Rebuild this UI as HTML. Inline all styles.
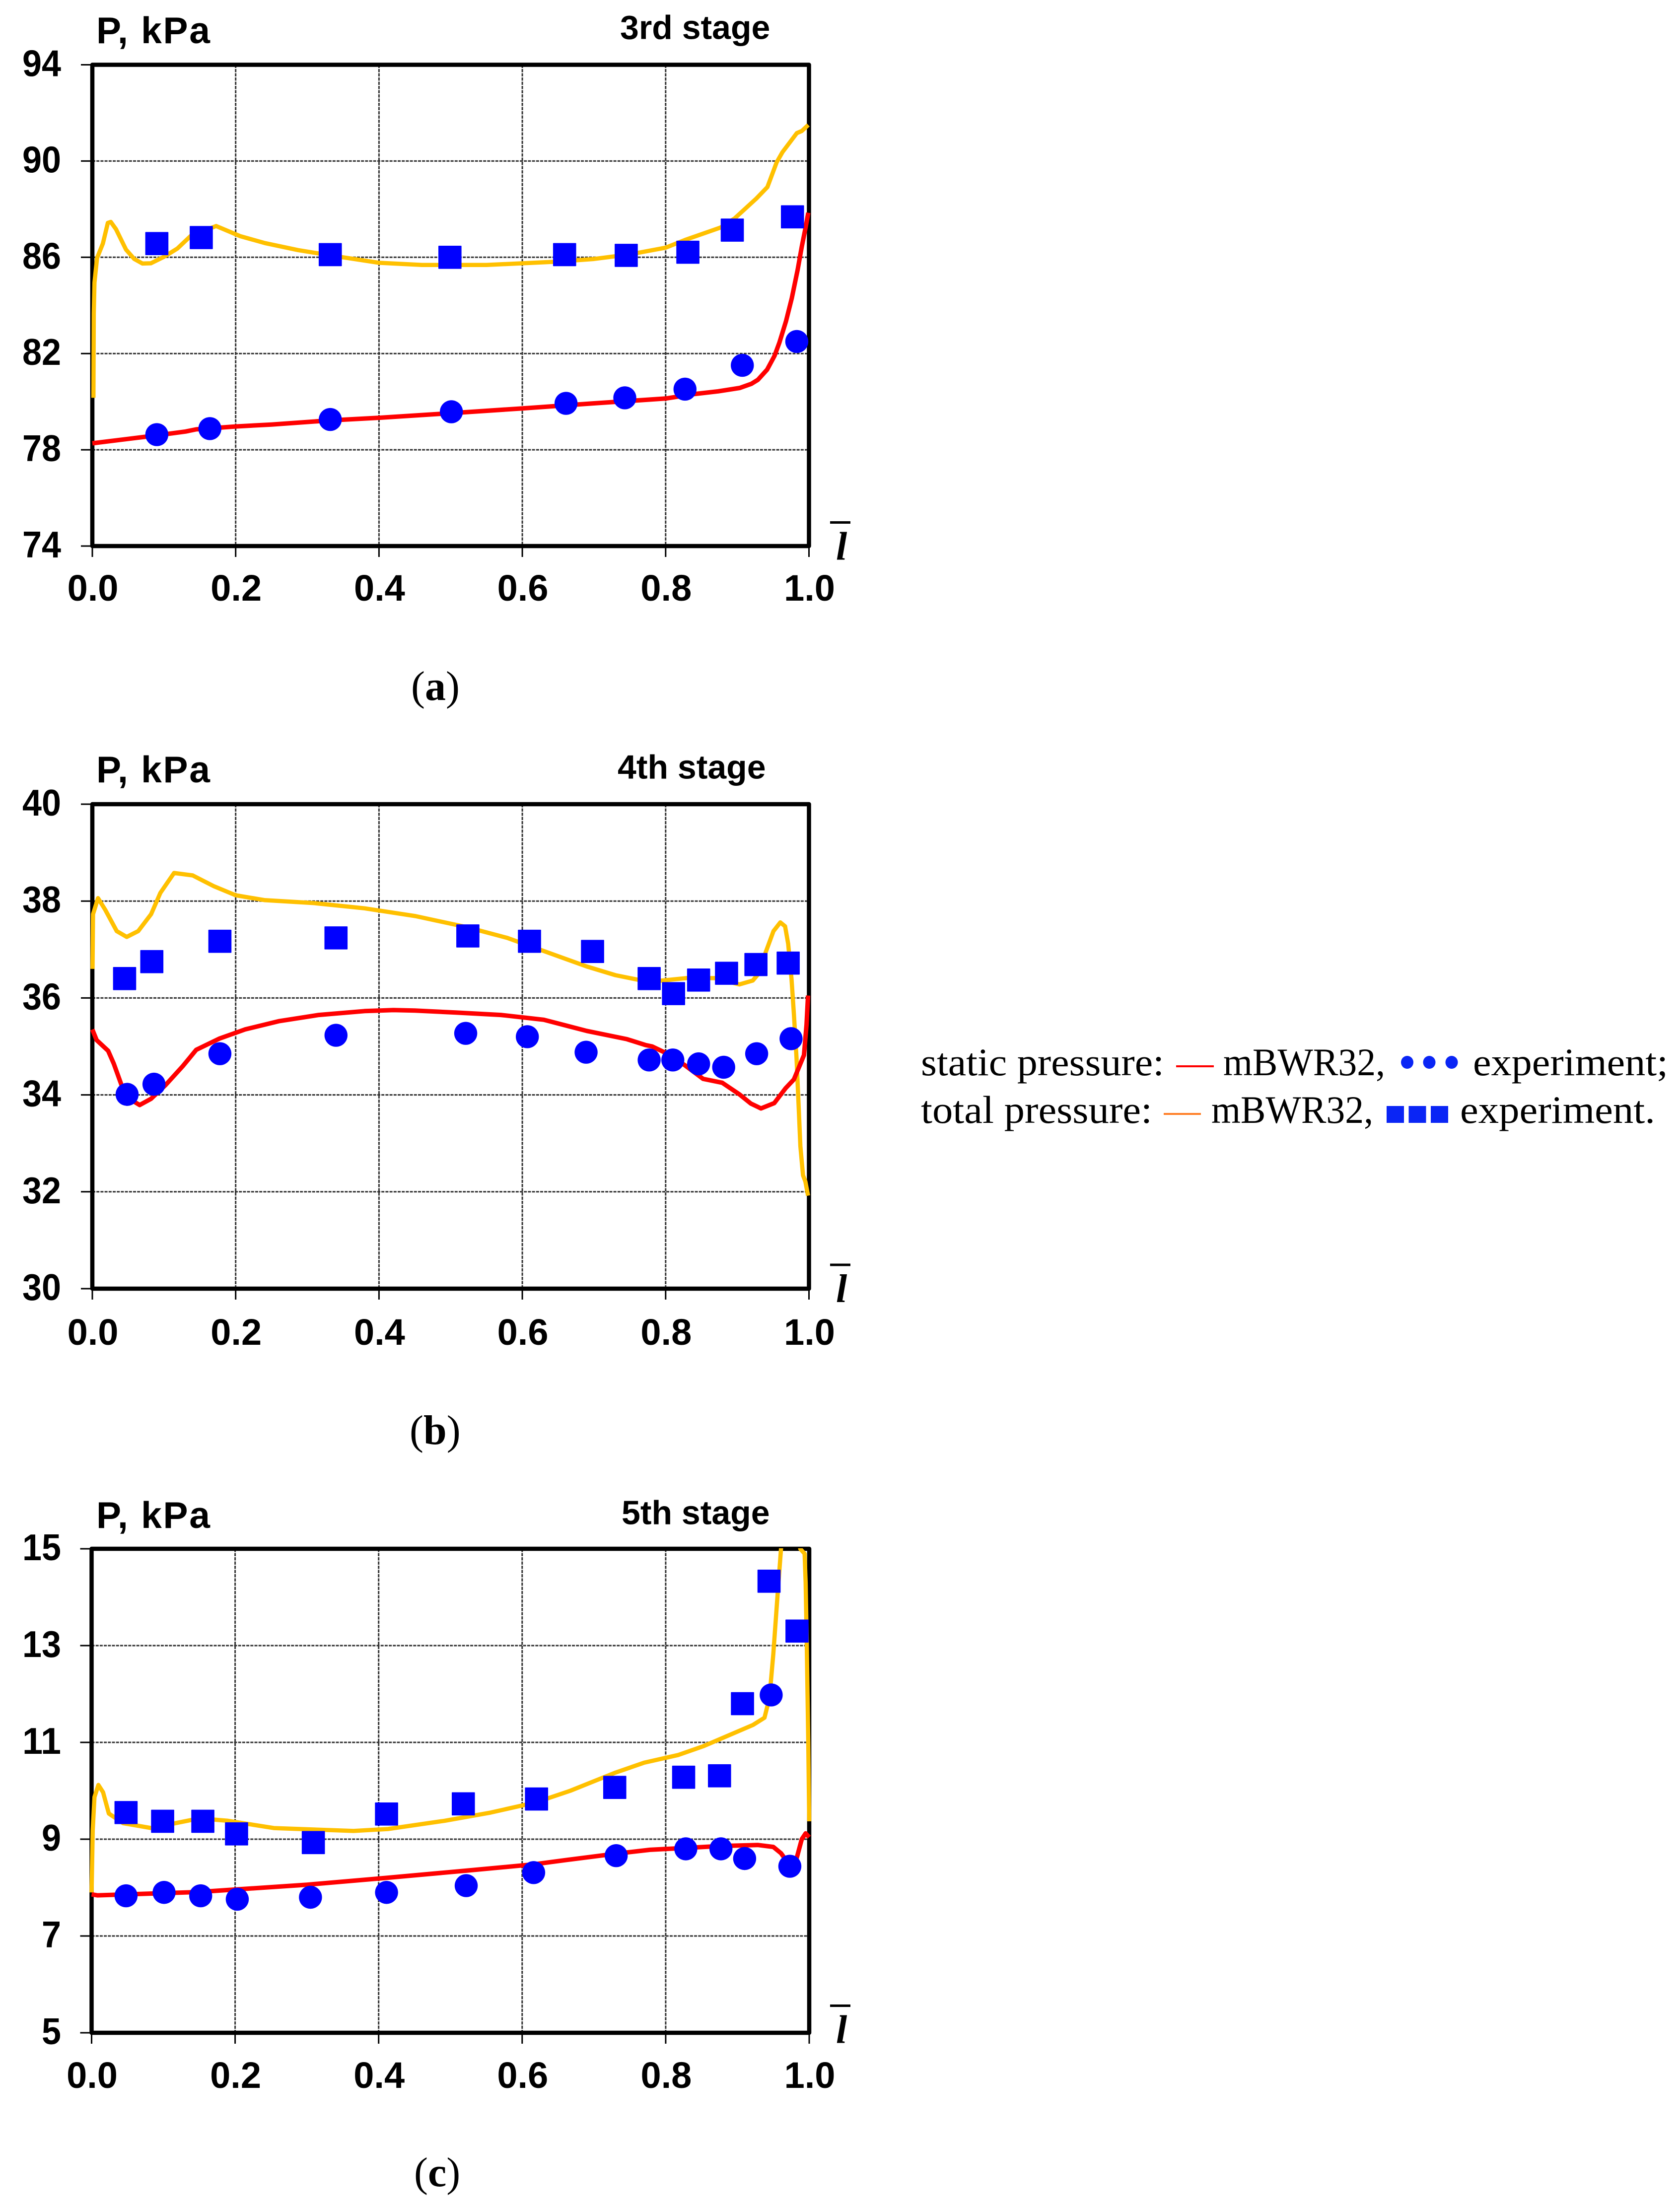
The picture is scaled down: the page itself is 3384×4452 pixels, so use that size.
<!DOCTYPE html>
<html lang="en">
<head>
<meta charset="utf-8">
<title>Pressure distribution by stage</title>
<style>
html,body{margin:0;padding:0;background:#fff}
svg{display:block}
.sans{font-family:"Liberation Sans",Arial,sans-serif;font-weight:bold;fill:#000}
.serif{font-family:"Liberation Serif","Times New Roman",serif;fill:#000}
</style>
</head>
<body>
<svg id="figure" xmlns="http://www.w3.org/2000/svg" width="3384" height="4452" viewBox="0 0 3384 4452">
  <rect x="0" y="0" width="3384" height="4452" fill="#fff"/>
  <g id="panels"></g>
  <g>
    <text class="serif" x="1855" y="2166" font-size="78" textLength="490" lengthAdjust="spacingAndGlyphs">static pressure:</text>
    <rect x="2369" y="2146" width="76" height="4" fill="#ff0000"/>
    <text class="serif" x="2464" y="2166" font-size="78" textLength="326" lengthAdjust="spacingAndGlyphs">mBWR32,</text>
    <ellipse cx="2834.5" cy="2140" rx="12.5" ry="13" fill="#0a25f5"/>
    <ellipse cx="2879" cy="2140" rx="12.5" ry="13" fill="#0a25f5"/>
    <ellipse cx="2924" cy="2140" rx="12.5" ry="13" fill="#0a25f5"/>
    <text class="serif" x="2967" y="2166" font-size="78" textLength="393" lengthAdjust="spacingAndGlyphs">experiment;</text>
    <text class="serif" x="1855" y="2262" font-size="78" textLength="466" lengthAdjust="spacingAndGlyphs">total pressure:</text>
    <rect x="2344" y="2242" width="75" height="4" fill="#ff7f27"/>
    <text class="serif" x="2440" y="2262" font-size="78" textLength="326" lengthAdjust="spacingAndGlyphs">mBWR32,</text>
    <rect x="2793" y="2228" width="35" height="34" fill="#0a25f5"/>
    <rect x="2837.5" y="2228" width="35" height="34" fill="#0a25f5"/>
    <rect x="2882" y="2228" width="35" height="34" fill="#0a25f5"/>
    <text class="serif" x="2941" y="2262" font-size="78" textLength="393" lengthAdjust="spacingAndGlyphs">experiment.</text>
  </g>
</svg>
<script>
// ---- shared tick labels ----
const xTickLabels = ['0.0', '0.2', '0.4', '0.6', '0.8', '1.0'];
const yTicksA = ['74', '78', '82', '86', '90', '94'];
const yTicksB = ['30', '32', '34', '36', '38', '40'];
const yTicksC = ['5', '7', '9', '11', '13', '15'];

// ---- panel (a) 3rd stage ----
const aStaticLineX = [0, .09, .13, .145, .2, .25, .33, .4, .5, .6, .7, .8, .841, .8733, .9034, .9195, .9288, .9415, .952, .9588, .968, .976, .9842, .99, .9955, .999];
const aStaticLineY = [78.27, 78.6, 78.76, 78.85, 78.97, 79.05, 79.22, 79.33, 79.52, 79.72, 79.93, 80.13, 80.32, 80.43, 80.57, 80.74, 80.91, 81.33, 81.91, 82.46, 83.35, 84.3, 85.48, 86.45, 87.27, 87.85];
const aTotalLineX = [.0015, .002, .003, .0066, .0147, .0216, .0257, .033, .047, .0585, .07, .0816, .1, .1185, .137, .1727, .206, .2408, .287, .332, .4, .46, .55, .65, .7, .75, .8, .827, .8768, .8964, .9265, .942, .955, .963, .983, .99, .999];
const aTotalLineY = [80.16, 83.67, 84.95, 85.97, 86.57, 87.43, 87.47, 87.17, 86.32, 85.93, 85.74, 85.75, 86.02, 86.36, 86.88, 87.3, 86.88, 86.59, 86.3, 86.08, 85.77, 85.68, 85.68, 85.82, 85.93, 86.12, 86.4, 86.72, 87.24, 87.62, 88.44, 88.92, 89.95, 90.37, 91.16, 91.25, 91.5];
const aStaticExpX = [.09, .164, .332, .501, .661, .743, .827, .907, .983];
const aStaticExpY = [78.63, 78.88, 79.26, 79.58, 79.93, 80.16, 80.52, 81.51, 82.5];
const aTotalExpX = [.09, .152, .332, .499, .659, .745, .831, .893, .977];
const aTotalExpY = [86.57, 86.82, 86.11, 86, 86.11, 86.08, 86.21, 87.13, 87.68];

// ---- panel (b) 4th stage ----
const bStaticLineX = [0, .006, .022, .03, .042, .054, .066, .082, .102, .126, .145, .177, .213, .26, .316, .38, .42, .45, .507, .57, .63, .69, .746, .7716, .781, .7995, .827, .8523, .879, .903, .919, .933, .9516, .9676, .979, .993, .9966, .9987];
const bStaticLineY = [35.35, 35.13, 34.91, 34.64, 34.15, 33.9, 33.79, 33.92, 34.2, 34.59, 34.93, 35.16, 35.35, 35.52, 35.65, 35.73, 35.75, 35.74, 35.7, 35.65, 35.55, 35.32, 35.15, 35.03, 35, 34.87, 34.61, 34.33, 34.25, 34.01, 33.82, 33.72, 33.83, 34.14, 34.32, 34.82, 35.45, 36.05];
const bTotalLineX = [.0003, .001, .008, .018, .034, .048, .064, .082, .095, .114, .14, .169, .2, .24, .308, .38, .451, .523, .579, .626, .69, .73, .777, .7945, .829, .8685, .903, .9216, .929, .94, .9505, .96, .9667, .971, .9757, .979, .9826, .985, .988, .9917, .995, .9987];
const bTotalLineY = [36.6, 37.73, 38.06, 37.82, 37.38, 37.26, 37.38, 37.73, 38.17, 38.58, 38.53, 38.31, 38.12, 38.02, 37.96, 37.85, 37.69, 37.46, 37.24, 36.99, 36.65, 36.47, 36.33, 36.36, 36.41, 36.41, 36.28, 36.36, 36.49, 36.96, 37.38, 37.56, 37.48, 37.12, 36.39, 35.66, 34.77, 33.98, 32.94, 32.34, 32.21, 31.92];
const bStaticExpX = [.0485, .086, .178, .34, .521, .607, .689, .777, .81, .846, .881, .927, .975];
const bStaticExpY = [34.01, 34.22, 34.85, 35.23, 35.27, 35.2, 34.88, 34.72, 34.72, 34.64, 34.57, 34.85, 35.16];
const bTotalExpX = [.045, .083, .178, .34, .524, .61, .698, .777, .811, .846, .885, .926, .971];
const bTotalExpY = [36.4, 36.75, 37.17, 37.24, 37.28, 37.17, 36.96, 36.4, 36.09, 36.37, 36.51, 36.69, 36.72];

// ---- panel (c) 5th stage ----
const cStaticLineX = [0, .008, .048, .15, .2, .3, .41, .522, .616, .667, .73, .778, .828, .877, .9285, .95, .9607, .9735, .9826, .9896, .995, 1];
const cStaticLineY = [7.86, 7.84, 7.86, 7.91, 7.96, 8.06, 8.2, 8.35, 8.48, 8.58, 8.7, 8.78, 8.82, 8.86, 8.88, 8.84, 8.71, 8.45, 8.61, 9, 9.12, 9.04];
const cTotalLineX = [0, .0016, .004, .0095, .016, .024, .044, .083, .15, .19, .254, .365, .413, .492, .556, .619, .667, .729, .77, .8177, .8523, .887, .9216, .9377, .9446, .95, .956, .9607, .9632, .985, .9875, .9936, .995, .9966, .9987, 1];
const cTotalLineY = [7.9, 9.19, 9.87, 10.12, 9.97, 9.53, 9.33, 9.23, 9.43, 9.38, 9.23, 9.17, 9.21, 9.38, 9.55, 9.76, 10, 10.37, 10.58, 10.74, 10.92, 11.14, 11.36, 11.51, 11.92, 12.83, 14.07, 15, 15.5, 15.5, 15, 14.9, 14.3, 13, 11, 9.37];
const cStaticExpX = [.048, .101, .152, .203, .305, .411, .522, .616, .731, .828, .877, .91, .947, .973];
const cStaticExpY = [7.83, 7.9, 7.83, 7.76, 7.8, 7.9, 8.04, 8.31, 8.66, 8.8, 8.8, 8.6, 11.98, 8.44];
const cTotalExpX = [.048, .099, .155, .202, .309, .411, .518, .62, .729, .825, .875, .907, .944, .983];
const cTotalExpY = [9.55, 9.37, 9.37, 9.11, 8.93, 9.52, 9.73, 9.83, 10.07, 10.28, 10.31, 11.8, 14.33, 13.3];

const NS = 'http://www.w3.org/2000/svg';
const panelsRoot = document.getElementById('panels');

function make(parent, tag, attrs, text) {
  const el = document.createElementNS(NS, tag);
  for (const k in attrs) el.setAttribute(k, attrs[k]);
  if (text !== undefined) el.textContent = text;
  parent.appendChild(el);
  return el;
}

function drawPanel(p) {
  const g = make(panelsRoot, 'g', {});
  
  
  const yMin = Number(p.yTicks[0]);
  const yMax = Number(p.yTicks[p.yTicks.length - 1]);
  const sx = v => p.left + v * (p.right - p.left);
  const sy = v => p.bottom - (v - yMin) / (yMax - yMin) * (p.bottom - p.top);

  // gridlines
  xTickLabels.slice(1, -1).forEach(lab => {
    const x = sx(Number(lab));
    const line = make(g, 'line', { x1: x, x2: x, y1: p.top, y2: p.bottom, stroke: '#333', 'stroke-width': 3, 'stroke-dasharray': '6.5 2' });
    
    
  });
  p.yTicks.slice(1, -1).forEach(lab => {
    const y = sy(Number(lab));
    const line = make(g, 'line', { x1: p.left, x2: p.right, y1: y, y2: y, stroke: '#333', 'stroke-width': 3, 'stroke-dasharray': '6 2.2' });
    
    
  });

  // tick marks and labels
  p.yTicks.forEach(lab => {
    const y = sy(Number(lab));
    const tick = make(g, 'line', { x1: p.left - 23, x2: p.left, y1: y, y2: y, stroke: '#000', 'stroke-width': 3 });
    
    
    const t = make(g, 'text', { class: 'sans', x: 123, y: y + 23, 'font-size': 75, 'text-anchor': 'end', textLength: lab.length * 39, lengthAdjust: 'spacingAndGlyphs' }, lab);
    
    
  });
  xTickLabels.forEach(lab => {
    const x = sx(Number(lab));
    const tick = make(g, 'line', { x1: x, x2: x, y1: p.bottom, y2: p.bottom + 22, stroke: '#000', 'stroke-width': 3 });
    
    
    const t = make(g, 'text', { class: 'sans', x: x + 1, y: p.xLabelY, 'font-size': 74, 'text-anchor': 'middle' }, lab);
    
    
  });

  // axes frame
  const frame = make(g, 'rect', { x: p.left, y: p.top, width: p.right - p.left, height: p.bottom - p.top, fill: 'none', stroke: '#000', 'stroke-width': 8.5, 'stroke-linejoin': 'round' });
  
  

  // clip so curves stop at the upper frame
  const clipId = 'clip-' + p.id;
  const defs = make(g, 'defs', {});
  const clip = make(defs, 'clipPath', { id: clipId });
  make(clip, 'rect', { x: p.left - 10, y: p.top - 1, width: p.right - p.left + 16, height: p.bottom - p.top + 1 });

  // curves
  const curve = (xs, ys, color, width, name) => {
    const pts = xs.map((x, i) => sx(x).toFixed(1) + ',' + sy(ys[i]).toFixed(1)).join(' ');
    const line = make(g, 'polyline', { points: pts, fill: 'none', stroke: color, 'stroke-width': width, 'stroke-linejoin': 'round', 'clip-path': 'url(#' + clipId + ')' });
    
    
  };
  curve(p.totalLineX, p.totalLineY, '#ffc000', 8.5, 'total-pressure-curve');
  curve(p.staticLineX, p.staticLineY, '#ff0000', 9, 'static-pressure-curve');

  // experiment markers
  p.totalExpX.forEach((x, i) => {
    const m = make(g, 'rect', { x: sx(x) - 23.3, y: sy(p.totalExpY[i]) - 23.3, width: 46.6, height: 46.6, fill: '#0000ff', rx: 1 });
    
    
  });
  p.staticExpX.forEach((x, i) => {
    const m = make(g, 'ellipse', { cx: sx(x), cy: sy(p.staticExpY[i]), rx: 23.2, ry: 23.2, fill: '#0000ff' });
    
    
  });

  // titles
  const yTitle = make(g, 'text', { class: 'sans', x: 194, y: p.yTitleY, 'font-size': 75, textLength: 229, lengthAdjust: 'spacing' }, 'P, kPa');
  
  
  const stage = make(g, 'text', { class: 'sans', x: p.stageX, y: p.stageY, 'font-size': 68 }, p.stage);
  
  

  // x-axis symbol: l with an overbar
  const bar = make(g, 'rect', { x: 1672, y: p.barY - 2.5, width: 41, height: 5, fill: '#000' });
  
  
  const sym = make(g, 'text', { class: 'serif', x: 1684, y: p.barY + 75, 'font-size': 80, 'font-style': 'italic', 'font-weight': 'bold' }, 'l');
  
  

  // caption
  const cap = make(g, 'text', { class: 'serif', x: p.capX, y: p.capY, 'font-size': 84 });
  
  
  make(cap, 'tspan', {}, '(');
  make(cap, 'tspan', { 'font-weight': 'bold' }, p.id);
  make(cap, 'tspan', {}, ')');
}

drawPanel({
  id: 'a', stage: '3rd stage', yTicks: yTicksA,
  left: 186, right: 1629.5, top: 130.5, bottom: 1100,
  xLabelY: 1210, yTitleY: 87, stageX: 1249, stageY: 78.5, barY: 1052.5, capX: 828, capY: 1410,
  staticLineX: aStaticLineX, staticLineY: aStaticLineY, totalLineX: aTotalLineX, totalLineY: aTotalLineY,
  staticExpX: aStaticExpX, staticExpY: aStaticExpY, totalExpX: aTotalExpX, totalExpY: aTotalExpY
});
drawPanel({
  id: 'b', stage: '4th stage', yTicks: yTicksB,
  left: 186, right: 1629.5, top: 1620, bottom: 2596,
  xLabelY: 2709, yTitleY: 1576, stageX: 1244, stageY: 1568.5, barY: 2548, capX: 825, capY: 2909,
  staticLineX: bStaticLineX, staticLineY: bStaticLineY, totalLineX: bTotalLineX, totalLineY: bTotalLineY,
  staticExpX: bStaticExpX, staticExpY: bStaticExpY, totalExpX: bTotalExpX, totalExpY: bTotalExpY
});
drawPanel({
  id: 'c', stage: '5th stage', yTicks: yTicksC,
  left: 184.5, right: 1630, top: 3120, bottom: 4095,
  xLabelY: 4206, yTitleY: 3078, stageX: 1252, stageY: 3070.5, barY: 4040.5, capX: 834, capY: 4404,
  staticLineX: cStaticLineX, staticLineY: cStaticLineY, totalLineX: cTotalLineX, totalLineY: cTotalLineY,
  staticExpX: cStaticExpX, staticExpY: cStaticExpY, totalExpX: cTotalExpX, totalExpY: cTotalExpY
});
</script>
</body>
</html>
